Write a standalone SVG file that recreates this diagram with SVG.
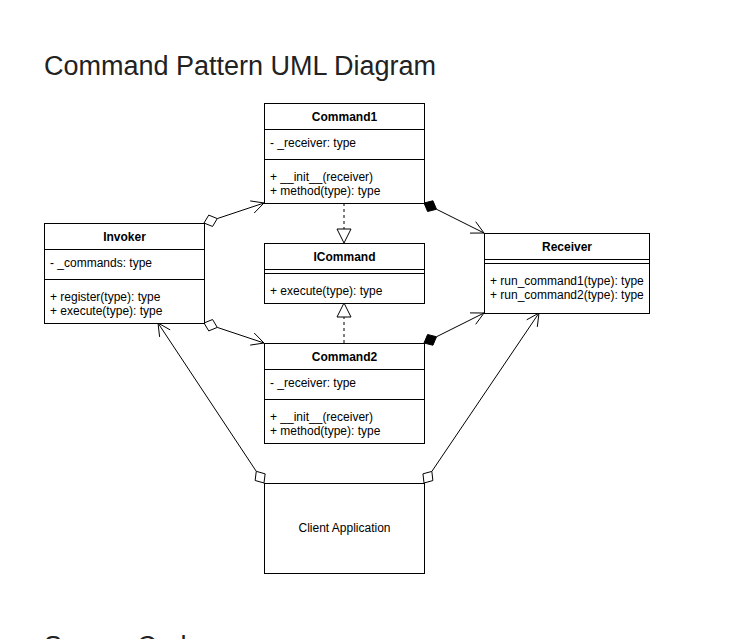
<svg xmlns="http://www.w3.org/2000/svg" width="731" height="639" viewBox="0 0 731 639">
<style>
.bg{fill:#ffffff}
.box{fill:#ffffff;stroke:#000000;stroke-width:1}
.sep{stroke:#000000;stroke-width:1;fill:none}
.t{font-family:"Liberation Sans",Arial,Helvetica,sans-serif;font-size:12px;fill:#000000}
.h{font-family:"Liberation Sans",Arial,Helvetica,sans-serif;font-size:12px;font-weight:bold;fill:#000000;text-anchor:middle}
.title{font-family:"Liberation Sans",Arial,Helvetica,sans-serif;font-size:27px;fill:#222222}
.ln{stroke:#000000;stroke-width:1;fill:none}
.dash{stroke:#000000;stroke-width:1;fill:none;stroke-dasharray:3 3}
.od{fill:#ffffff;stroke:#000000;stroke-width:1}
.fd{fill:#000000;stroke:#000000;stroke-width:1}
.tri{fill:#ffffff;stroke:#000000;stroke-width:1}
</style>
<rect class="bg" x="0" y="0" width="731" height="639"/>
<text class="title" x="44" y="75" textLength="392" lengthAdjust="spacingAndGlyphs">Command Pattern UML Diagram</text>

<g id="connectors">
  <!-- Invoker -> Command1 -->
  <path class="ln" d="M217.29,218.58 L264,203 M250.2,200.9 L264,203 L254.2,213"/>
  <polygon class="od" points="204,223 212.54,226.48 217.29,218.58 208.74,215.1"/>
  <!-- Invoker -> Command2 -->
  <path class="ln" d="M217.29,327.42 L264,343 M254.2,333 L264,343 L250.2,345.1"/>
  <polygon class="od" points="204,323 208.74,330.9 217.29,327.42 212.54,319.52"/>
  <!-- Command1 -> Receiver -->
  <path class="ln" d="M436.52,209.26 L484,233 M475.7,221.7 L484,233 L470,233.1"/>
  <polygon class="fd" points="424,203 427.58,211.49 436.52,209.26 432.94,200.77"/>
  <!-- Command2 -> Receiver -->
  <path class="ln" d="M436.52,336.74 L484,313 M470,312.9 L484,313 L475.7,324.3"/>
  <polygon class="fd" points="424,343 432.94,345.23 436.52,336.74 427.58,334.51"/>
  <!-- Client -> Invoker -->
  <path class="ln" d="M256.27,471.32 L158,323 M159.6,336.9 L158,323 L170.2,329.9"/>
  <polygon class="od" points="264,483 265.14,473.85 256.27,471.32 255.14,480.47"/>
  <!-- Client -> Receiver -->
  <path class="ln" d="M431.84,471.41 L539,313 M526.7,319.8 L539,313 L537.3,326.9"/>
  <polygon class="od" points="424,483 432.89,480.56 431.84,471.41 422.95,473.84"/>
  <!-- Command1 realizes ICommand -->
  <path class="dash" d="M344,203 L344,229"/>
  <polygon class="tri" points="344,243 337,229 351,229"/>
  <!-- Command2 realizes ICommand -->
  <path class="dash" d="M344,343 L344,317"/>
  <polygon class="tri" points="344,303 337,317 351,317"/>
</g>

<g id="command1">
  <rect class="box" x="264.5" y="103.5" width="160" height="100"/>
  <path class="sep" d="M264.5,129.5 H424.5 M264.5,159.5 H424.5"/>
  <text class="h" x="344.5" y="121">Command1</text>
  <text class="t" x="270" y="147">- _receiver: type</text>
  <text class="t" x="270" y="181">+ __init__(receiver)</text>
  <text class="t" x="270" y="195">+ method(type): type</text>
</g>

<g id="icommand">
  <rect class="box" x="264.5" y="243.5" width="160" height="60"/>
  <path class="sep" d="M264.5,269.5 H424.5 M264.5,273.5 H424.5"/>
  <text class="h" x="344.5" y="261">ICommand</text>
  <text class="t" x="270" y="295">+ execute(type): type</text>
</g>

<g id="command2">
  <rect class="box" x="264.5" y="343.5" width="160" height="100"/>
  <path class="sep" d="M264.5,369.5 H424.5 M264.5,399.5 H424.5"/>
  <text class="h" x="344.5" y="361">Command2</text>
  <text class="t" x="270" y="387">- _receiver: type</text>
  <text class="t" x="270" y="421">+ __init__(receiver)</text>
  <text class="t" x="270" y="435">+ method(type): type</text>
</g>

<g id="invoker">
  <rect class="box" x="44.5" y="223.5" width="160" height="100"/>
  <path class="sep" d="M44.5,249.5 H204.5 M44.5,279.5 H204.5"/>
  <text class="h" x="124.5" y="241">Invoker</text>
  <text class="t" x="50" y="267">- _commands: type</text>
  <text class="t" x="50" y="301">+ register(type): type</text>
  <text class="t" x="50" y="315">+ execute(type): type</text>
</g>

<g id="receiver">
  <rect class="box" x="484.5" y="233.5" width="165" height="80"/>
  <path class="sep" d="M484.5,259.5 H649.5 M484.5,263.5 H649.5"/>
  <text class="h" x="567" y="251">Receiver</text>
  <text class="t" x="490" y="285">+ run_command1(type): type</text>
  <text class="t" x="490" y="299">+ run_command2(type): type</text>
</g>

<g id="client">
  <rect class="box" x="264.5" y="483.5" width="160" height="90"/>
  <text class="t" x="344.5" y="532" text-anchor="middle">Client Application</text>
</g>

<text class="title" x="44" y="655">Source Code</text>
</svg>
